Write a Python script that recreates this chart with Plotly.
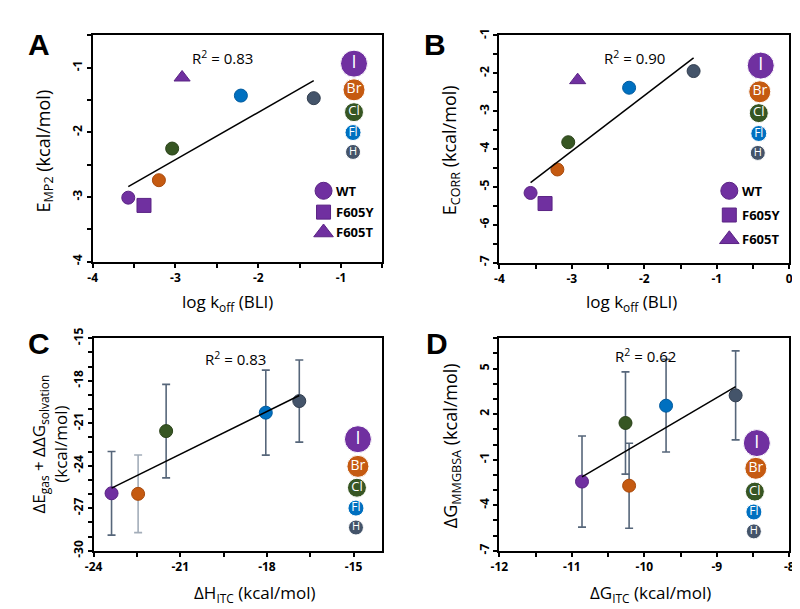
import numpy as np
import plotly.graph_objects as go

W, H = 800, 609

# ---------------- data ----------------
halogens = ["I", "Br", "Cl", "Fl", "H"]
hal_colors = ["#7030A0", "#C55A11", "#375623", "#0070C0", "#44546A"]
hal_edge = ["#5A2384", "#A84A0C", "#2A4219", "#005A9E", "#333F50"]
mutants = ["F605Y", "F605T"]

# Panel A : log koff (BLI) vs E_MP2
a_x = [-3.57, -3.20, -3.04, -2.21, -1.33]
a_y = [-3.01, -2.74, -2.25, -1.43, -1.47]
a_mut_x = [-3.38, -2.92]
a_mut_y = [-3.13, -1.15]
a_r2 = "0.83"

# Panel B : log koff (BLI) vs E_CORR
b_x = [-3.57, -3.20, -3.05, -2.21, -1.32]
b_y = [-5.16, -4.54, -3.82, -2.38, -1.94]
b_mut_x = [-3.37, -2.92]
b_mut_y = [-5.44, -2.18]
b_r2 = "0.90"

# Panel C : dH_ITC vs dE_gas + ddG_solv
c_x = [-23.38, -22.46, -21.49, -18.04, -16.88]
c_y = [-25.94, -25.98, -21.55, -20.25, -19.43]
c_err = [2.95, 2.74, 3.30, 3.00, 2.90]
c_r2 = "0.83"

# Panel D : dG_ITC vs dG_MMGBSA
d_x = [-10.86, -10.21, -10.26, -9.70, -8.74]
d_y = [-2.44, -2.71, 1.42, 2.56, 3.24]
d_err = [3.00, 2.80, 3.37, 3.05, 2.93]
d_r2 = "0.62"

# tick values per panel (x ticks, y ticks)
a_xticks = [-4, -3, -2, -1]
a_yticks = [-4, -3, -2, -1]
b_xticks = [-4, -3, -2, -1, 0]
b_yticks = [-7, -6, -5, -4, -3, -2, -1]
c_xticks = [-24, -21, -18, -15]
c_yticks = [-30, -27, -24, -21, -18, -15]
d_xticks = [-12, -11, -10, -9, -8]
d_yticks = [-7, -4, -1, 2, 5]

# ---------------- layout helpers ----------------
TICKFONT = dict(family="Open Sans", size=12, color="black")

frames = {
    "A": (77, 372, 17, 250),
    "B": (491, 786, 17, 251),
    "C": (78, 372, 329, 548),
    "D": (491, 786, 329, 548),
}


def dom(f):
    l, r, t, b = f
    return [l / W, r / W], [1 - b / H, 1 - t / H]


def ax(domain, rng, ticks, minor, anchor, angle=0):
    return dict(domain=domain, range=rng, tickmode="array", tickvals=ticks,
                ticktext=["<b>%g</b>" % v for v in ticks],
                ticks="outside", ticklen=4, tickwidth=1.5, tickcolor="black",
                minor=dict(dtick=minor, tick0=ticks[0], ticks="outside", ticklen=4,
                           tickwidth=1.5, tickcolor="black"),
                showline=True, linewidth=2, linecolor="black", mirror=True,
                showgrid=False, zeroline=False, tickfont=TICKFONT,
                anchor=anchor, tickangle=angle, fixedrange=True)


fig = go.Figure()
layout = dict(width=W, height=H, margin=dict(l=0, r=0, t=0, b=0),
              paper_bgcolor="white", plot_bgcolor="rgba(0,0,0,0)",
              showlegend=False)

axis_specs = {
    "A": ([-4, -0.5], a_xticks, 0.5, [-4, -0.5], a_yticks, 0.5),
    "B": ([-4, 0], b_xticks, 0.5, [-7, -1], b_yticks, 0.5),
    "C": ([-24, -14], c_xticks, 1.5, [-30, -15], c_yticks, 1),
    "D": ([-12, -8], d_xticks, 0.5, [-7, 7], d_yticks, 1),
}
for i, key in enumerate(["A", "B", "C", "D"]):
    n = "" if i == 0 else str(i + 1)
    xd, yd = dom(frames[key])
    xr, xt, xmn, yr, yt, ymn = axis_specs[key]
    layout["xaxis" + n] = ax(xd, xr, xt, xmn, "y" + n)
    layout["yaxis" + n] = ax(yd, yr, yt, ymn, "x" + n, angle=-90)

layout["xaxis9"] = dict(domain=[0, 1], range=[0, W], visible=False, anchor="y9", fixedrange=True)
layout["yaxis9"] = dict(domain=[0, 1], range=[H, 0], visible=False, anchor="x9", fixedrange=True)


def add_panel(n, xs, ys, err=None, err_colors=None):
    xa, ya = "x" + n, "y" + n
    for k in range(len(xs)):
        tr = dict(x=[xs[k]], y=[ys[k]], mode="markers", xaxis=xa, yaxis=ya,
                  marker=dict(size=13, color=hal_colors[k],
                              line=dict(color=hal_edge[k], width=1)))
        if err is not None:
            tr["error_y"] = dict(type="data", array=[err[k]], visible=True,
                                 color=err_colors[k], thickness=1.6, width=4)
        fig.add_trace(go.Scatter(**tr))
    m, c = np.polyfit(xs, ys, 1)
    lx = np.array([min(xs), max(xs)])
    fig.add_trace(go.Scatter(x=lx, y=m * lx + c, mode="lines", xaxis=xa, yaxis=ya,
                             line=dict(color="black", width=1.5)))


def add_mutants(n, mx, my):
    syms = ["square", "triangle-up"]
    for k in range(len(mx)):
        fig.add_trace(go.Scatter(x=[mx[k]], y=[my[k]], mode="markers",
                                 xaxis="x" + n, yaxis="y" + n,
                                 marker=dict(symbol=syms[k], size=14, color="#7030A0",
                                             line=dict(color="#5A2384", width=1))))


add_panel("", a_x, a_y)
add_mutants("", a_mut_x, a_mut_y)
add_panel("2", b_x, b_y)
add_mutants("2", b_mut_x, b_mut_y)
err_cols = ["#56667A", "#A3ADB9", "#56667A", "#56667A", "#56667A"]
add_panel("3", c_x, c_y, c_err, err_cols)
add_panel("4", d_x, d_y, d_err, ["#56667A"] * 5)

# ---------------- in-plot keys (pixel positions) ----------------
key_sizes = [27, 22, 19, 16, 15]
key_fonts = [18, 14, 13, 12, 11]
key_pos = {
    "A": ([343, 343, 343, 342, 342], [46, 73, 96, 117, 137]),
    "B": ([757, 756, 755, 755, 754], [48, 75, 97, 118, 138]),
    "C": ([347, 347, 346, 345, 345], [433, 461, 483, 504, 524]),
    "D": ([753, 752, 751, 750, 750], [437, 463, 487, 508, 528]),
}
for key, (kx, ky) in key_pos.items():
    for k in range(5):
        fig.add_trace(go.Scatter(
            x=[kx[k]], y=[ky[k]], mode="markers+text", xaxis="x9", yaxis="y9",
            text=[halogens[k]], textposition="middle center",
            textfont=dict(family="Open Sans", size=key_fonts[k], color="white"),
            marker=dict(size=key_sizes[k], color=hal_colors[k],
                        line=dict(color="white", width=1))))

mut_key = {
    "A": (312, [177, 199, 220]),
    "B": (725, [177, 202, 227]),
}
mut_labels = ["WT", "F605Y", "F605T"]
mut_syms = ["circle", "square", "triangle-up"]
mut_sizes = [17, 14, 17]
ann = layout.setdefault("annotations", [])
for key, (mx0, mys) in mut_key.items():
    for k in range(3):
        fig.add_trace(go.Scatter(
            x=[mx0], y=[mys[k]], mode="markers", xaxis="x9", yaxis="y9",
            marker=dict(symbol=mut_syms[k], size=mut_sizes[k], color="#7030A0",
                        line=dict(color="#5A2384", width=1))))
        ann.append(dict(
            x=(mx0 + 11) / W, y=1 - mys[k] / H, xref="paper", yref="paper",
            xanchor="left", yanchor="middle", text="<b>%s</b>" % mut_labels[k], showarrow=False,
            font=dict(family="Open Sans", size=13, color="black")))


def note(x, y, text, size=17, angle=0, family="Open Sans"):
    ann.append(dict(x=x / W, y=1 - y / H, xref="paper", yref="paper", text=text,
                    showarrow=False, textangle=angle, xanchor="center", yanchor="middle",
                    font=dict(family=family, size=size, color="black")))


for letter, (px, py) in {"A": (22, 26), "B": (425, 26), "C": (22, 334), "D": (427, 334)}.items():
    note(px, py, "<b>%s</b>" % letter, size=30, family="Liberation Sans")

note(209, 40, "R<sup>2</sup> = " + a_r2, size=15)
note(628, 40, "R<sup>2</sup> = " + b_r2, size=15)
note(222, 350, "R<sup>2</sup> = " + c_r2, size=15)
note(640, 347, "R<sup>2</sup> = " + d_r2, size=15)

note(214, 292, "log k<sub>off</sub> (BLI)")
note(625, 292, "log k<sub>off</sub> (BLI)")
note(242, 592, "ΔH<sub>ITC</sub> (kcal/mol)")
note(645, 592, "ΔG<sub>ITC</sub> (kcal/mol)")
note(28, 136, "E<sub>MP2</sub> (kcal/mol)", size=18, angle=-90)
note(441, 135, "E<sub>CORR</sub> (kcal/mol)", size=18, angle=-90)
note(33, 438, "ΔE<sub>gas</sub> + ΔΔG<sub>solvation</sub><br>(kcal/mol)", size=17, angle=-90)
note(443, 440, "ΔG<sub>MMGBSA</sub> (kcal/mol)", size=18, angle=-90)

fig.update_layout(**layout)
fig.write_html("out.html")
